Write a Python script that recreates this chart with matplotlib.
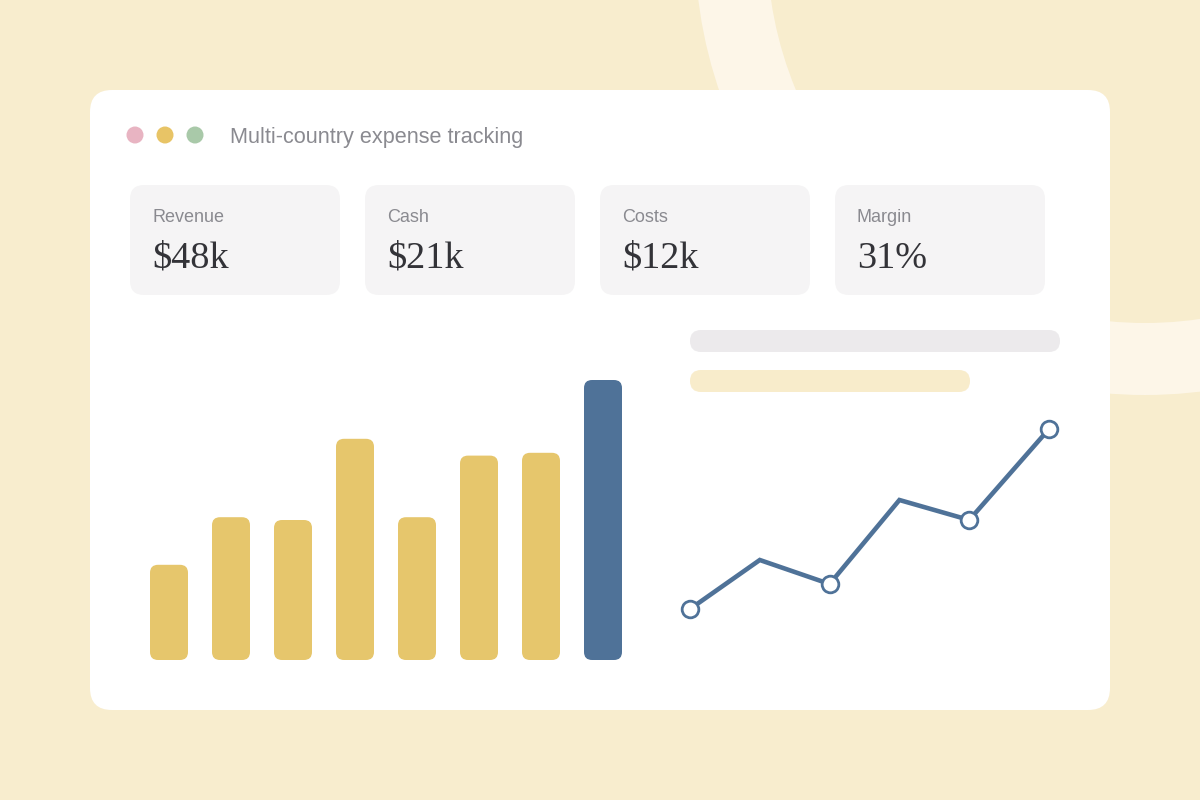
import matplotlib.pyplot as plt
from matplotlib.patches import FancyBboxPatch, Circle, Wedge

# ---- data ----
title = "Multi-country expense tracking"
kpi_labels = ["Revenue", "Cash", "Costs", "Margin"]
kpi_values = ["$48k", "$21k", "$12k", "31%"]

bar_values = [34, 51, 50, 79, 51, 73, 74, 100]
highlight_bar = 7

line_days = [0, 7, 14, 21, 28, 36]
line_values = [4.1, 9.0, 6.6, 15.0, 13.0, 22.1]
marked_points = [0, 2, 4, 5]

# ---- colours ----
BG = "#F8EDCE"
RING = "#FDF6E8"
CARD = "#FFFFFF"
TILE = "#F5F4F5"
GREY_TEXT = "#8A8A90"
DARK_TEXT = "#333338"
YELLOW = "#E6C66C"
BLUE = "#4F7298"
dot_colors = ["#E8B4C2", "#E8C466", "#A9C9A9"]

W, H = 1200, 800
fig = plt.figure(figsize=(W / 100, H / 100), dpi=100)
fig.patch.set_facecolor(BG)

# base canvas in pixel units, y down
ax = fig.add_axes([0, 0, 1, 1])
ax.set_xlim(0, W)
ax.set_ylim(H, 0)
ax.axis("off")

# decorative ring in the background
ax.add_patch(Wedge((1145, -55), 450, 0, 360, width=72, facecolor=RING, edgecolor="none"))

# main card
ax.add_patch(FancyBboxPatch((90, 90), 1020, 620, boxstyle="round,pad=0,rounding_size=22",
                            facecolor=CARD, edgecolor="none"))

# window dots + title
for i, c in enumerate(dot_colors):
    ax.add_patch(Circle((135 + 30 * i, 135), 8.5, facecolor=c, edgecolor="none"))
ax.text(230, 143, title, fontsize=15.6, color=GREY_TEXT, family="Liberation Sans",
        va="baseline", ha="left")

# kpi tiles
for i, (lab, val) in enumerate(zip(kpi_labels, kpi_values)):
    x0 = 130 + 235 * i
    ax.add_patch(FancyBboxPatch((x0, 185), 210, 110, boxstyle="round,pad=0,rounding_size=14",
                                facecolor=TILE, edgecolor="none"))
    ax.text(x0 + 22, 222, lab, fontsize=13, color=GREY_TEXT, family="Liberation Sans",
            va="baseline", ha="left")
    ax.text(x0 + 22, 268, val, fontsize=27.5, color=DARK_TEXT, family="Liberation Serif",
            va="baseline", ha="left")

# placeholder pills
ax.add_patch(FancyBboxPatch((690, 330), 370, 22, boxstyle="round,pad=0,rounding_size=11",
                            facecolor="#ECEAEC", edgecolor="none"))
ax.add_patch(FancyBboxPatch((690, 370), 280, 22, boxstyle="round,pad=0,rounding_size=11",
                            facecolor="#F8ECCB", edgecolor="none"))

# ---- bar chart ----
bx0, bx1, by0, by1 = 138, 634, 660, 380
bax = fig.add_axes([bx0 / W, 1 - by0 / H, (bx1 - bx0) / W, (by0 - by1) / H])
bax.set_xlim(-0.5, len(bar_values) - 0.5)
bax.set_ylim(0, 100)
bax.axis("off")

px_x = (len(bar_values)) / (bx1 - bx0)
px_y = 100 / (by0 - by1)
bar_w = 38 * px_x
bars = bax.bar(range(len(bar_values)), bar_values, width=bar_w)
for i, b in enumerate(bars):
    b.set_visible(False)
    bax.add_patch(FancyBboxPatch((b.get_x(), b.get_y()), b.get_width(), b.get_height(),
                                 boxstyle="round,pad=0,rounding_size=%f" % (8 * px_x),
                                 mutation_aspect=px_y / px_x,
                                 facecolor=BLUE if i == highlight_bar else YELLOW,
                                 edgecolor="none"))

# ---- line chart ----
lx0, lx1, ly0, ly1 = 690, 1049, 650, 400
lax = fig.add_axes([lx0 / W, 1 - ly0 / H, (lx1 - lx0) / W, (ly0 - ly1) / H])
lax.set_xlim(0, 36)
lax.set_ylim(0, 25)
lax.axis("off")
lax.plot(line_days, line_values, color=BLUE, lw=3.3, solid_joinstyle="miter",
         marker="o", markevery=marked_points, markersize=12, markerfacecolor="white",
         markeredgecolor=BLUE, markeredgewidth=2, clip_on=False)

fig.savefig("out.png", dpi=100, facecolor=BG)
